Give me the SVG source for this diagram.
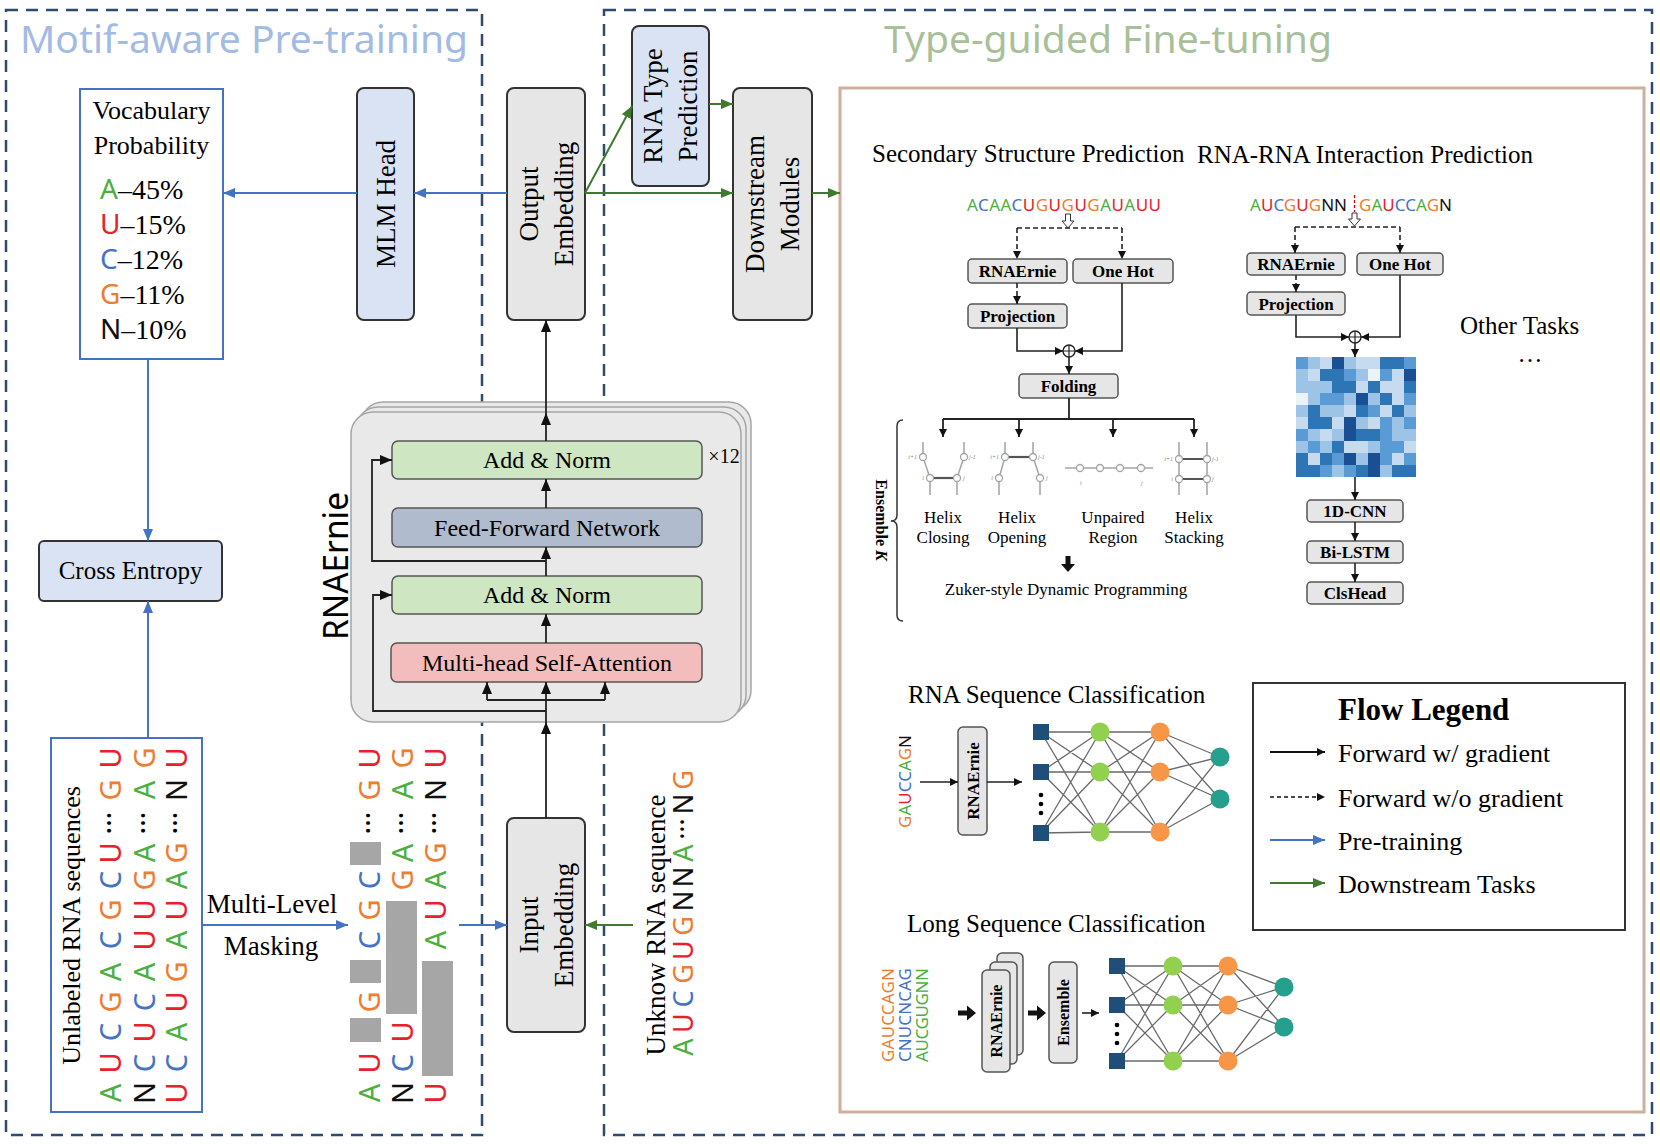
<svg xmlns="http://www.w3.org/2000/svg" width="1660" height="1144" viewBox="0 0 1660 1144">
<defs>
<style>
text{font-family:"Liberation Serif","Times New Roman",serif}
.ss{font-family:"Noto Sans","Liberation Sans",sans-serif}
.b{font-weight:bold}
.mid{text-anchor:middle}
.cA{fill:#4CAF3F}.cU{fill:#E8202A}.cC{fill:#4472C4}.cG{fill:#ED7D31}.cN{fill:#111}
.big{stroke:#333;stroke-width:2}
.gr{fill:#E7E6E6}
.lb{fill:#DAE3F3}
.sb{fill:#E7E6E6;stroke:#555;stroke-width:1.5}
.bl{fill:none;stroke:#4472C4;stroke-width:2}
.gl{fill:none;stroke:#3F7A2E;stroke-width:2}
.kl{fill:none;stroke:#222;stroke-width:1.8}
.ks{fill:none;stroke:#222;stroke-width:1.6}
.kd{fill:none;stroke:#222;stroke-width:1.6;stroke-dasharray:5 3}
.hx{fill:none;stroke:#A3A3A3;stroke-width:1.5}
.hp{fill:none;stroke:#555;stroke-width:2.2}
.hc{fill:#fff;stroke:#A3A3A3;stroke-width:1.3}
.hl{font-size:6px;fill:#888;font-style:italic}
.nn{fill:none;stroke:#6A6A6A;stroke-width:1.3}
.sq{fill:#1F4E79}.ng{fill:#92D050}.no{fill:#F79646}.nt{fill:#26A08E}
.dash{fill:none;stroke:#2E4A6E;stroke-width:2.5;stroke-dasharray:12 8}
</style>
<marker id="mb" viewBox="0 0 12 10" markerWidth="12" markerHeight="10" refX="12" refY="5" orient="auto" markerUnits="userSpaceOnUse"><path d="M0,0 L12,5 L0,10 z" fill="#4472C4"/></marker>
<marker id="mg" viewBox="0 0 12 10" markerWidth="12" markerHeight="10" refX="12" refY="5" orient="auto" markerUnits="userSpaceOnUse"><path d="M0,0 L12,5 L0,10 z" fill="#3F7A2E"/></marker>
<marker id="mk" viewBox="0 0 12 10" markerWidth="12" markerHeight="10" refX="12" refY="5" orient="auto" markerUnits="userSpaceOnUse"><path d="M0,0 L12,5 L0,10 z" fill="#111"/></marker>
<marker id="ms" viewBox="0 0 8 8" markerWidth="8" markerHeight="8" refX="8" refY="4" orient="auto" markerUnits="userSpaceOnUse"><path d="M0,0 L8,4 L0,8 z" fill="#111"/></marker>
</defs>

<rect width="1660" height="1144" fill="#fff"/>

<g id="panel-pretraining">
<rect class="dash" x="6" y="10" width="476" height="1125"/>
<text class="ss" x="20" y="53" font-size="38" textLength="448" lengthAdjust="spacingAndGlyphs" style="fill:#A3BBE3">Motif-aware Pre-training</text>
</g>
<g id="panel-finetuning">
<rect class="dash" x="604" y="10" width="1048" height="1125"/>
<text class="ss" x="884" y="53" font-size="38" textLength="448" lengthAdjust="spacingAndGlyphs" style="fill:#A9BF9A">Type-guided Fine-tuning</text>
</g>
<g id="task-box">
<rect x="840" y="88" width="804" height="1024" fill="none" stroke="#CFAE9E" stroke-width="3"/>
</g>

<g id="vocab-probability">
<rect x="80" y="89" width="143" height="270" fill="#fff" stroke="#4472C4" stroke-width="2"/>
<text class="mid" x="151.5" y="119" font-size="26">Vocabulary</text>
<text class="mid" x="151.5" y="154" font-size="26">Probability</text>
<text x="100" y="199" font-size="28"><tspan class="ss cA">A</tspan>–45%</text>
<text x="100" y="234" font-size="28"><tspan class="ss cU">U</tspan>–15%</text>
<text x="100" y="269" font-size="28"><tspan class="ss cC">C</tspan>–12%</text>
<text x="100" y="304" font-size="28"><tspan class="ss cG">G</tspan>–11%</text>
<text x="100" y="339" font-size="28"><tspan class="ss cN">N</tspan>–10%</text>
</g>

<g id="mlm-head">
<rect x="357" y="88" width="57" height="232" rx="7" class="lb big"/>
<text class="mid" transform="translate(395,204) rotate(-90)" font-size="27">MLM Head</text>
</g>

<g id="cross-entropy">
<rect x="39" y="541" width="183" height="60" rx="5" class="lb big"/>
<text class="mid" x="130.5" y="579" font-size="25">Cross Entropy</text>
</g>

<g id="output-embedding">
<rect x="507" y="88" width="78" height="232" rx="7" class="gr big"/>
<text class="mid" transform="translate(537.5,204) rotate(-90)" font-size="27">Output</text>
<text class="mid" transform="translate(572.5,204) rotate(-90)" font-size="27">Embedding</text>
</g>

<g id="rna-type-prediction">
<rect x="632" y="26" width="77" height="160" rx="7" class="lb big"/>
<text class="mid" transform="translate(662,106) rotate(-90)" font-size="27">RNA Type</text>
<text class="mid" transform="translate(697,106) rotate(-90)" font-size="27">Prediction</text>
</g>

<g id="downstream-modules">
<rect x="733" y="88" width="79" height="232" rx="7" class="gr big"/>
<text class="mid" transform="translate(764,204) rotate(-90)" font-size="27">Downstream</text>
<text class="mid" transform="translate(799,204) rotate(-90)" font-size="27">Modules</text>
</g>

<g id="rnaernie-stack">
<rect x="361" y="402" width="390" height="310" rx="22" fill="#E9E9E9" stroke="#A5A5A5" stroke-width="1.5"/>
<rect x="356" y="407" width="390" height="310" rx="22" fill="#E9E9E9" stroke="#A5A5A5" stroke-width="1.5"/>
<rect x="351" y="412" width="390" height="310" rx="22" fill="#E9E9E9" stroke="#A5A5A5" stroke-width="1.5"/>
<text class="ss mid" transform="translate(348,566) rotate(-90)" font-size="34" textLength="148" lengthAdjust="spacingAndGlyphs">RNAErnie</text>
<text class="mid" x="724" y="463" font-size="20">×12</text>
</g>
<g id="add-norm-top">
<rect x="392" y="441" width="310" height="38" rx="6" fill="#CFE6C3" stroke="#555" stroke-width="1.5"/>
<text class="mid" x="547" y="468" font-size="24">Add &amp; Norm</text>
</g>
<g id="feed-forward">
<rect x="392" y="508" width="310" height="39" rx="6" fill="#B0BCCE" stroke="#555" stroke-width="1.5"/>
<text class="mid" x="547" y="536" font-size="24">Feed-Forward Network</text>
</g>
<g id="add-norm-bottom">
<rect x="392" y="576" width="310" height="38" rx="6" fill="#CFE6C3" stroke="#555" stroke-width="1.5"/>
<text class="mid" x="547" y="603" font-size="24">Add &amp; Norm</text>
</g>
<g id="self-attention">
<rect x="391" y="643" width="311" height="39" rx="6" fill="#F4BDBD" stroke="#555" stroke-width="1.5"/>
<text class="mid" x="547" y="671" font-size="24">Multi-head Self-Attention</text>
</g>

<g id="input-embedding">
<rect x="507" y="818" width="78" height="214" rx="7" class="gr big"/>
<text class="mid" transform="translate(537.5,925) rotate(-90)" font-size="27">Input</text>
<text class="mid" transform="translate(572.5,925) rotate(-90)" font-size="27">Embedding</text>
</g>

<g id="unlabeled-sequences">
<rect x="51" y="738" width="151" height="374" fill="#fff" stroke="#4472C4" stroke-width="2"/>
<text class="mid" transform="translate(80,925.5) rotate(-90)" font-size="26">Unlabeled RNA sequences</text>
<text class="ss mid" font-size="29" transform="translate(121.4,0) rotate(-90)" x="-1093 -1063 -1032 -1002 -972 -940 -910 -880 -853 -823 -790 -758" y="0 0 0 0 0 0 0 0 0 -10 0 0"><tspan class="cA">A</tspan><tspan class="cU">U</tspan><tspan class="cC">C</tspan><tspan class="cG">G</tspan><tspan class="cA">A</tspan><tspan class="cC">C</tspan><tspan class="cG">G</tspan><tspan class="cC">C</tspan><tspan class="cU">U</tspan>…<tspan class="cG">G</tspan><tspan class="cU">U</tspan></text>
<text class="ss mid" font-size="29" transform="translate(155.4,0) rotate(-90)" x="-1093 -1063 -1032 -1002 -972 -940 -910 -880 -853 -823 -790 -758" y="0 0 0 0 0 0 0 0 0 -10 0 0"><tspan class="cN">N</tspan><tspan class="cC">C</tspan><tspan class="cU">U</tspan><tspan class="cC">C</tspan><tspan class="cA">A</tspan><tspan class="cU">U</tspan><tspan class="cU">U</tspan><tspan class="cG">G</tspan><tspan class="cA">A</tspan>…<tspan class="cA">A</tspan><tspan class="cG">G</tspan></text>
<text class="ss mid" font-size="29" transform="translate(187.4,0) rotate(-90)" x="-1093 -1063 -1032 -1002 -972 -940 -910 -880 -853 -823 -790 -758" y="0 0 0 0 0 0 0 0 0 -10 0 0"><tspan class="cU">U</tspan><tspan class="cC">C</tspan><tspan class="cA">A</tspan><tspan class="cU">U</tspan><tspan class="cG">G</tspan><tspan class="cA">A</tspan><tspan class="cU">U</tspan><tspan class="cA">A</tspan><tspan class="cG">G</tspan>…<tspan class="cN">N</tspan><tspan class="cU">U</tspan></text>
</g>

<g id="masking-label">
<text class="mid" x="272" y="913" font-size="27">Multi-Level</text>
<text class="mid" x="271" y="955" font-size="27">Masking</text>
</g>

<g id="masked-sequences">
<g fill="#A6A6A6">
<rect x="350" y="1018" width="31" height="24"/>
<rect x="350" y="960" width="31" height="23"/>
<rect x="350" y="842" width="31" height="23"/>
<rect x="386" y="901" width="31" height="113"/>
<rect x="422" y="961" width="31" height="115"/>
</g>
<text class="ss mid" font-size="29" transform="translate(380.4,0) rotate(-90)" x="-1093 -1063 -1002 -940 -910 -880 -823 -790 -758" y="0 0 0 0 0 0 -10 0 0"><tspan class="cA">A</tspan><tspan class="cU">U</tspan><tspan class="cG">G</tspan><tspan class="cC">C</tspan><tspan class="cG">G</tspan><tspan class="cC">C</tspan>…<tspan class="cG">G</tspan><tspan class="cU">U</tspan></text>
<text class="ss mid" font-size="29" transform="translate(413.4,0) rotate(-90)" x="-1093 -1063 -1032 -880 -853 -823 -790 -758" y="0 0 0 0 0 -10 0 0"><tspan class="cN">N</tspan><tspan class="cC">C</tspan><tspan class="cU">U</tspan><tspan class="cG">G</tspan><tspan class="cA">A</tspan>…<tspan class="cA">A</tspan><tspan class="cG">G</tspan></text>
<text class="ss mid" font-size="29" transform="translate(446.4,0) rotate(-90)" x="-1093 -940 -910 -880 -853 -823 -790 -758" y="0 0 0 0 0 -10 0 0"><tspan class="cU">U</tspan><tspan class="cA">A</tspan><tspan class="cU">U</tspan><tspan class="cA">A</tspan><tspan class="cG">G</tspan>…<tspan class="cN">N</tspan><tspan class="cU">U</tspan></text>
</g>

<g id="unknown-sequence">
<text class="mid" transform="translate(665,925) rotate(-90)" font-size="27">Unknow RNA sequence</text>
<text class="ss mid" font-size="27" transform="translate(692.5,0) rotate(-90)" x="-1047 -1023 -999 -974 -950 -926 -901 -877 -853 -829 -804 -780" y="0 0 0 0 0 0 0 0 0 -9 0 0"><tspan class="cA">A</tspan><tspan class="cU">U</tspan><tspan class="cC">C</tspan><tspan class="cG">G</tspan><tspan class="cU">U</tspan><tspan class="cG">G</tspan><tspan class="cN">N</tspan><tspan class="cN">N</tspan><tspan class="cA">A</tspan>…<tspan class="cN">N</tspan><tspan class="cG">G</tspan></text>
</g>

<!-- Secondary structure prediction -->
<g id="ssp-title"><text x="872" y="162" font-size="25">Secondary Structure Prediction</text></g>
<g id="ssp-sequence">
<text class="ss" x="967" y="211" font-size="17" textLength="194" lengthAdjust="spacing"><tspan class="cA">A</tspan><tspan class="cC">C</tspan><tspan class="cA">AA</tspan><tspan class="cC">C</tspan><tspan class="cU">U</tspan><tspan class="cG">G</tspan><tspan class="cU">U</tspan><tspan class="cG">G</tspan><tspan class="cU">U</tspan><tspan class="cG">G</tspan><tspan class="cA">A</tspan><tspan class="cU">U</tspan><tspan class="cA">A</tspan><tspan class="cU">UU</tspan></text>
<path d="M1065.5,214 h5 v7 h3.5 l-6,7 l-6,-7 h3.5 z" fill="#fff" stroke="#333" stroke-width="1"/>
</g>
<g id="ssp-rnaernie"><rect x="968" y="259" width="99" height="24" rx="4" class="sb"/><text class="b mid" x="1017.5" y="277" font-size="17">RNAErnie</text></g>
<g id="ssp-onehot"><rect x="1073" y="259" width="100" height="24" rx="4" class="sb"/><text class="b mid" x="1123" y="277" font-size="17">One Hot</text></g>
<g id="ssp-projection"><rect x="968" y="304" width="99" height="24" rx="4" class="sb"/><text class="b mid" x="1017.5" y="322" font-size="17">Projection</text></g>
<g id="ssp-add"><circle cx="1069" cy="351" r="6" fill="#fff" stroke="#222" stroke-width="1.4"/><path d="M1063,351 H1075 M1069,345 V357" stroke="#222" stroke-width="1.2"/></g>
<g id="ssp-folding"><rect x="1019" y="374" width="99" height="24" rx="4" class="sb"/><text class="b mid" x="1068.5" y="392" font-size="17">Folding</text></g>
<g id="ensemble-bracket">
<path d="M903,420 Q897,420 897,426 V515 Q897,521 891,521 Q897,521 897,527 V615 Q897,621 903,621" fill="none" stroke="#333" stroke-width="1.5"/>
<text class="b mid" transform="translate(876,520) rotate(90)" font-size="16">Ensemble <tspan font-style="italic">K</tspan></text>
</g>
<g id="helix-closing">
<path class="hx" d="M923,442 V457 L930,478 V495 M964,442 V457 L957,478 V495"/>
<path class="hp" d="M930,478 H957"/>
<circle class="hc" cx="923" cy="457" r="3.5"/><circle class="hc" cx="964" cy="457" r="3.5"/><circle class="hc" cx="930" cy="478" r="3.5"/><circle class="hc" cx="957" cy="478" r="3.5"/>
<text class="hl" x="917" y="459" text-anchor="end">i+1</text><text class="hl" x="969" y="459">j-1</text><text class="hl" x="924" y="480" text-anchor="end">i</text><text class="hl" x="963" y="480">j</text>
<text class="mid" x="943" y="523" font-size="17">Helix</text><text class="mid" x="943" y="543" font-size="17">Closing</text>
</g>
<g id="helix-opening">
<path class="hx" d="M1005,442 V457 L999,478 V495 M1033,442 V457 L1040,478 V495"/>
<path class="hp" d="M1005,457 H1033"/>
<circle class="hc" cx="1005" cy="457" r="3.5"/><circle class="hc" cx="1033" cy="457" r="3.5"/><circle class="hc" cx="999" cy="478" r="3.5"/><circle class="hc" cx="1040" cy="478" r="3.5"/>
<text class="hl" x="999" y="459" text-anchor="end">i+1</text><text class="hl" x="1038" y="459">j-1</text><text class="hl" x="993" y="480" text-anchor="end">i</text><text class="hl" x="1046" y="480">j</text>
<text class="mid" x="1017" y="523" font-size="17">Helix</text><text class="mid" x="1017" y="543" font-size="17">Opening</text>
</g>
<g id="unpaired-region">
<path class="hx" d="M1065,468 H1153"/>
<circle class="hc" cx="1080" cy="468" r="3.5"/><circle class="hc" cx="1100" cy="468" r="3.5"/><circle class="hc" cx="1120" cy="468" r="3.5"/><circle class="hc" cx="1141" cy="468" r="3.5"/>
<text class="hl" x="1080" y="485">i</text><text class="hl" x="1141" y="485">j</text>
<text class="mid" x="1113" y="523" font-size="17">Unpaired</text><text class="mid" x="1113" y="543" font-size="17">Region</text>
</g>
<g id="helix-stacking">
<path class="hx" d="M1179,442 V495 M1207,442 V495"/>
<path class="hp" d="M1179,459 H1207 M1179,479 H1207"/>
<circle class="hc" cx="1179" cy="459" r="3.5"/><circle class="hc" cx="1207" cy="459" r="3.5"/><circle class="hc" cx="1179" cy="479" r="3.5"/><circle class="hc" cx="1207" cy="479" r="3.5"/>
<text class="hl" x="1173" y="461" text-anchor="end">i+1</text><text class="hl" x="1212" y="461">j-1</text><text class="hl" x="1173" y="481" text-anchor="end">i</text><text class="hl" x="1212" y="481">j</text>
<text class="mid" x="1194" y="523" font-size="17">Helix</text><text class="mid" x="1194" y="543" font-size="17">Stacking</text>
</g>
<g id="zuker-dp"><text class="mid" x="1066" y="595" font-size="17">Zuker-style Dynamic Programming</text></g>

<!-- RNA-RNA interaction -->
<g id="rri-title"><text x="1197" y="163" font-size="25">RNA-RNA Interaction Prediction</text></g>
<g id="rri-sequence">
<text class="ss" x="1250" y="211" font-size="17" textLength="97" lengthAdjust="spacing"><tspan class="cA">A</tspan><tspan class="cU">U</tspan><tspan class="cC">C</tspan><tspan class="cG">G</tspan><tspan class="cU">U</tspan><tspan class="cG">G</tspan><tspan class="cN">NN</tspan></text>
<text class="ss" x="1359" y="211" font-size="17" textLength="93" lengthAdjust="spacing"><tspan class="cG">G</tspan><tspan class="cA">A</tspan><tspan class="cU">U</tspan><tspan class="cC">CC</tspan><tspan class="cA">A</tspan><tspan class="cG">G</tspan><tspan class="cN">N</tspan></text>
<path d="M1354.5,195 V212" stroke="#E00000" stroke-width="1.3" stroke-dasharray="3 2"/>
<path d="M1352,213 h5 v6 h3.5 l-6,7 l-6,-7 h3.5 z" fill="#fff" stroke="#333" stroke-width="1"/>
</g>
<g id="rri-rnaernie"><rect x="1247" y="253" width="98" height="22" rx="4" class="sb"/><text class="b mid" x="1296" y="270" font-size="17">RNAErnie</text></g>
<g id="rri-onehot"><rect x="1357" y="253" width="86" height="22" rx="4" class="sb"/><text class="b mid" x="1400" y="270" font-size="17">One Hot</text></g>
<g id="rri-projection"><rect x="1247" y="292" width="98" height="23" rx="4" class="sb"/><text class="b mid" x="1296" y="309.5" font-size="17">Projection</text></g>
<g id="rri-add"><circle cx="1355" cy="337" r="6" fill="#fff" stroke="#222" stroke-width="1.4"/><path d="M1349,337 H1361 M1355,331 V343" stroke="#222" stroke-width="1.2"/></g>
<g id="rri-heatmap">
<rect x="1296" y="357" width="120" height="120" fill="#EAF2FA"/>
<path fill="#C6DBEF" d="M1320,357h12v12h-12z M1356,357h12v12h-12z M1368,357h12v12h-12z M1308,369h12v12h-12z M1392,369h12v12h-12z M1356,381h12v12h-12z M1380,381h12v12h-12z M1392,381h12v12h-12z M1392,393h12v12h-12z M1344,405h12v12h-12z M1380,405h12v12h-12z M1296,417h12v12h-12z M1332,417h12v12h-12z M1368,417h12v12h-12z M1320,429h12v12h-12z M1344,441h12v12h-12z M1356,441h12v12h-12z M1404,441h12v12h-12z M1308,453h12v12h-12z M1392,453h12v12h-12z"/>
<path fill="#9DC3E6" d="M1308,357h12v12h-12z M1344,357h12v12h-12z M1296,369h12v12h-12z M1356,369h12v12h-12z M1296,381h12v12h-12z M1308,381h12v12h-12z M1320,381h12v12h-12z M1308,393h12v12h-12z M1344,393h12v12h-12z M1368,393h12v12h-12z M1296,405h12v12h-12z M1320,405h12v12h-12z M1332,405h12v12h-12z M1404,405h12v12h-12z M1356,417h12v12h-12z M1392,417h12v12h-12z M1308,429h12v12h-12z M1332,429h12v12h-12z M1392,429h12v12h-12z M1404,429h12v12h-12z M1296,441h12v12h-12z M1320,441h12v12h-12z M1368,441h12v12h-12z M1356,453h12v12h-12z M1332,465h12v12h-12z M1380,465h12v12h-12z"/>
<path fill="#5B9BD5" d="M1296,357h12v12h-12z M1404,357h12v12h-12z M1344,369h12v12h-12z M1380,369h12v12h-12z M1320,393h12v12h-12z M1332,393h12v12h-12z M1404,393h12v12h-12z M1368,405h12v12h-12z M1380,417h12v12h-12z M1404,417h12v12h-12z M1296,429h12v12h-12z M1380,429h12v12h-12z M1308,441h12v12h-12z M1380,441h12v12h-12z M1392,441h12v12h-12z M1332,453h12v12h-12z M1380,453h12v12h-12z M1404,453h12v12h-12z M1320,465h12v12h-12z M1344,465h12v12h-12z"/>
<path fill="#2E75B6" d="M1380,357h12v12h-12z M1392,357h12v12h-12z M1320,369h12v12h-12z M1332,369h12v12h-12z M1332,381h12v12h-12z M1344,381h12v12h-12z M1368,381h12v12h-12z M1404,381h12v12h-12z M1380,393h12v12h-12z M1308,405h12v12h-12z M1356,405h12v12h-12z M1392,405h12v12h-12z M1308,417h12v12h-12z M1320,417h12v12h-12z M1356,429h12v12h-12z M1368,429h12v12h-12z M1332,441h12v12h-12z M1296,453h12v12h-12z M1320,453h12v12h-12z M1296,465h12v12h-12z M1308,465h12v12h-12z M1356,465h12v12h-12z M1392,465h12v12h-12z M1404,465h12v12h-12z"/>
<path fill="#1B4F93" d="M1332,357h12v12h-12z M1404,369h12v12h-12z M1356,393h12v12h-12z M1344,417h12v12h-12z M1344,429h12v12h-12z M1344,453h12v12h-12z M1368,453h12v12h-12z M1368,465h12v12h-12z"/>
</g>
<g id="rri-cnn"><rect x="1307" y="500" width="96" height="22" rx="4" class="sb"/><text class="b mid" x="1355" y="517" font-size="17">1D-CNN</text></g>
<g id="rri-bilstm"><rect x="1307" y="541" width="96" height="22" rx="4" class="sb"/><text class="b mid" x="1355" y="558" font-size="17">Bi-LSTM</text></g>
<g id="rri-clshead"><rect x="1307" y="582" width="96" height="22" rx="4" class="sb"/><text class="b mid" x="1355" y="599" font-size="17">ClsHead</text></g>

<g id="other-tasks">
<text x="1460" y="334" font-size="25">Other Tasks</text>
<text class="mid" x="1530" y="362" font-size="25">…</text>
</g>

<!-- RNA sequence classification -->
<g id="rsc-title"><text x="908" y="703" font-size="25">RNA Sequence Classification</text></g>
<g id="rsc-sequence">
<text class="ss mid" transform="translate(911,781.5) rotate(-90)" font-size="17" textLength="93" lengthAdjust="spacing"><tspan class="cG">G</tspan><tspan class="cA">A</tspan><tspan class="cU">U</tspan><tspan class="cC">CC</tspan><tspan class="cA">A</tspan><tspan class="cG">G</tspan><tspan class="cN">N</tspan></text>
</g>
<g id="rsc-rnaernie"><rect x="958" y="727" width="29" height="108" rx="5" class="sb"/><text class="b mid" transform="translate(978.5,781) rotate(-90)" font-size="17">RNAErnie</text></g>
<g id="rsc-network">
<path class="nn" d="M1041,732L1100,732M1041,732L1100,772M1041,732L1100,832M1041,772L1100,732M1041,772L1100,772M1041,772L1100,832M1041,833L1100,732M1041,833L1100,772M1041,833L1100,832M1100,732L1160,732M1100,732L1160,772M1100,732L1160,832M1100,772L1160,732M1100,772L1160,772M1100,772L1160,832M1100,832L1160,732M1100,832L1160,772M1100,832L1160,832M1160,732L1220,757M1160,732L1220,799M1160,772L1220,757M1160,772L1220,799M1160,832L1220,757M1160,832L1220,799"/>
<rect class="sq" x="1033" y="724" width="16" height="16"/><rect class="sq" x="1033" y="764" width="16" height="16"/><rect class="sq" x="1033" y="825" width="16" height="16"/>
<circle cx="1041" cy="795" r="2.3"/><circle cx="1041" cy="804" r="2.3"/><circle cx="1041" cy="813" r="2.3"/>
<circle class="ng" cx="1100" cy="732" r="9.5"/><circle class="ng" cx="1100" cy="772" r="9.5"/><circle class="ng" cx="1100" cy="832" r="9.5"/>
<circle class="no" cx="1160" cy="732" r="9.5"/><circle class="no" cx="1160" cy="772" r="9.5"/><circle class="no" cx="1160" cy="832" r="9.5"/>
<circle class="nt" cx="1220" cy="757" r="9.5"/><circle class="nt" cx="1220" cy="799" r="9.5"/>
</g>

<!-- Long sequence classification -->
<g id="lsc-title"><text x="907" y="932" font-size="25">Long Sequence Classification</text></g>
<g id="lsc-sequences">
<text class="ss mid" transform="translate(894,1015) rotate(-90)" font-size="17" textLength="94" lengthAdjust="spacing" style="fill:#ED7D31">GAUCCAGN</text>
<text class="ss mid" transform="translate(911,1015) rotate(-90)" font-size="17" textLength="94" lengthAdjust="spacing" style="fill:#4472C4">CNUCNCAG</text>
<text class="ss mid" transform="translate(928,1015) rotate(-90)" font-size="17" textLength="94" lengthAdjust="spacing" style="fill:#4CAF3F">AUCGUGNN</text>
</g>
<g id="lsc-rnaernie">
<rect x="997" y="953" width="26" height="102" rx="5" class="sb"/>
<rect x="990" y="962" width="27" height="102" rx="5" class="sb"/>
<rect x="982" y="970" width="28" height="102" rx="5" class="sb"/>
<text class="b mid" transform="translate(1002,1021) rotate(-90)" font-size="16">RNAErnie</text>
</g>
<g id="lsc-ensemble"><rect x="1049" y="962" width="28" height="101" rx="5" class="sb"/><text class="b mid" transform="translate(1069,1012.5) rotate(-90)" font-size="16">Ensemble</text></g>
<g id="lsc-network">
<path class="nn" d="M1117,966L1173,966M1117,966L1173,1005M1117,966L1173,1061M1117,1005L1173,966M1117,1005L1173,1005M1117,1005L1173,1061M1117,1061L1173,966M1117,1061L1173,1005M1117,1061L1173,1061M1173,966L1228,966M1173,966L1228,1005M1173,966L1228,1061M1173,1005L1228,966M1173,1005L1228,1005M1173,1005L1228,1061M1173,1061L1228,966M1173,1061L1228,1005M1173,1061L1228,1061M1228,966L1284,987M1228,966L1284,1027M1228,1005L1284,987M1228,1005L1284,1027M1228,1061L1284,987M1228,1061L1284,1027"/>
<rect class="sq" x="1109" y="958" width="16" height="16"/><rect class="sq" x="1109" y="997" width="16" height="16"/><rect class="sq" x="1109" y="1053" width="16" height="16"/>
<circle cx="1117" cy="1025" r="2.3"/><circle cx="1117" cy="1034" r="2.3"/><circle cx="1117" cy="1043" r="2.3"/>
<circle class="ng" cx="1173" cy="966" r="9.5"/><circle class="ng" cx="1173" cy="1005" r="9.5"/><circle class="ng" cx="1173" cy="1061" r="9.5"/>
<circle class="no" cx="1228" cy="966" r="9.5"/><circle class="no" cx="1228" cy="1005" r="9.5"/><circle class="no" cx="1228" cy="1061" r="9.5"/>
<circle class="nt" cx="1284" cy="987" r="9.5"/><circle class="nt" cx="1284" cy="1027" r="9.5"/>
</g>

<!-- Legend -->
<g id="flow-legend">
<rect x="1253" y="683" width="372" height="247" fill="#fff" stroke="#333" stroke-width="2"/>
<text class="b" x="1338" y="720" font-size="31">Flow Legend</text>
<path d="M1270,752 H1325" stroke="#111" stroke-width="1.8" fill="none" marker-end="url(#ms)"/>
<text x="1338" y="762" font-size="26">Forward w/ gradient</text>
<path d="M1270,797 H1325" stroke="#111" stroke-width="1.6" stroke-dasharray="4 3" fill="none" marker-end="url(#ms)"/>
<text x="1338" y="807" font-size="26">Forward w/o gradient</text>
<path d="M1270,840 H1325" stroke="#4472C4" stroke-width="1.8" fill="none" marker-end="url(#mb)"/>
<text x="1338" y="850" font-size="26">Pre-training</text>
<path d="M1270,883 H1325" stroke="#3F7A2E" stroke-width="1.8" fill="none" marker-end="url(#mg)"/>
<text x="1338" y="893" font-size="26">Downstream Tasks</text>
</g>

<g id="connectors">
<!-- pre-training (blue) -->
<path class="bl" d="M507,193 H414" marker-end="url(#mb)"/>
<path class="bl" d="M357,193 H223" marker-end="url(#mb)"/>
<path class="bl" d="M148,359 V541" marker-end="url(#mb)"/>
<path class="bl" d="M148,738 V601" marker-end="url(#mb)"/>
<path class="bl" d="M202,925 H348" marker-end="url(#mb)"/>
<path class="bl" d="M459,925 H507" marker-end="url(#mb)"/>
<!-- downstream (green) -->
<path class="gl" d="M633,925 H585" marker-end="url(#mg)"/>
<path class="gl" d="M585,193 L632,106" marker-end="url(#mg)"/>
<path class="gl" d="M709,104 H733" marker-end="url(#mg)"/>
<path class="gl" d="M585,193 H733" marker-end="url(#mg)"/>
<path class="gl" d="M812,193 H840" marker-end="url(#mg)"/>
<!-- RNAErnie internals (black) -->
<path class="kl" d="M546,818 V722" marker-end="url(#mk)"/>
<path class="kl" d="M546,722 V700 M487,700 H605"/>
<path class="kl" d="M487,700 V682" marker-end="url(#mk)"/>
<path class="kl" d="M546,700 V682" marker-end="url(#mk)"/>
<path class="kl" d="M605,700 V682" marker-end="url(#mk)"/>
<path class="kl" d="M546,711 H373 V595 H392" marker-end="url(#mk)"/>
<path class="kl" d="M546,643 V614" marker-end="url(#mk)"/>
<path class="kl" d="M546,576 V547" marker-end="url(#mk)"/>
<path class="kl" d="M546,561 H372 V460 H392" marker-end="url(#mk)"/>
<path class="kl" d="M546,508 V479" marker-end="url(#mk)"/>
<path class="kl" d="M546,441 V413" marker-end="url(#mk)"/>
<path class="kl" d="M546,413 V320" marker-end="url(#mk)"/>
<!-- secondary structure -->
<path class="kd" d="M1017,228 H1122"/>
<path class="kd" d="M1017,228 V259" marker-end="url(#ms)"/>
<path class="kd" d="M1122,228 V259" marker-end="url(#ms)"/>
<path class="kd" d="M1017,283 V304" marker-end="url(#ms)"/>
<path class="ks" d="M1017,328 V351 H1063" marker-end="url(#ms)"/>
<path class="ks" d="M1122,283 V351 H1075" marker-end="url(#ms)"/>
<path class="ks" d="M1069,357 V374" marker-end="url(#ms)"/>
<path class="kl" d="M1069,398 V419 M943,419 H1194"/>
<path class="kl" d="M943,419 V437" marker-end="url(#ms)"/>
<path class="kl" d="M1019,419 V437" marker-end="url(#ms)"/>
<path class="kl" d="M1113,419 V437" marker-end="url(#ms)"/>
<path class="kl" d="M1194,419 V437" marker-end="url(#ms)"/>
<path d="M1065.5,556 h5 v8 h4.5 l-7,8 l-7,-8 h4.5 z" fill="#111"/>
<!-- RNA-RNA interaction -->
<path class="kd" d="M1295,227 H1400"/>
<path class="kd" d="M1295,227 V253" marker-end="url(#ms)"/>
<path class="kd" d="M1400,227 V253" marker-end="url(#ms)"/>
<path class="kd" d="M1296,275 V292" marker-end="url(#ms)"/>
<path class="ks" d="M1296,315 V337 H1349" marker-end="url(#ms)"/>
<path class="ks" d="M1400,275 V337 H1361" marker-end="url(#ms)"/>
<path class="ks" d="M1355,343 V357" marker-end="url(#ms)"/>
<path class="ks" d="M1355,477 V500" marker-end="url(#ms)"/>
<path class="ks" d="M1355,522 V541" marker-end="url(#ms)"/>
<path class="ks" d="M1355,563 V582" marker-end="url(#ms)"/>
<!-- sequence classification -->
<path class="ks" d="M920,782 H958" marker-end="url(#ms)"/>
<path class="ks" d="M987,782 H1022" marker-end="url(#ms)"/>
<path d="M958,1010.5 h9 v-5 l9,7.5 l-9,7.5 v-5 h-9 z" fill="#111"/>
<path d="M1028,1010.5 h9 v-5 l9,7.5 l-9,7.5 v-5 h-9 z" fill="#111"/>
<path class="ks" d="M1082,1013 H1099" marker-end="url(#ms)"/>
</g>
</svg>
